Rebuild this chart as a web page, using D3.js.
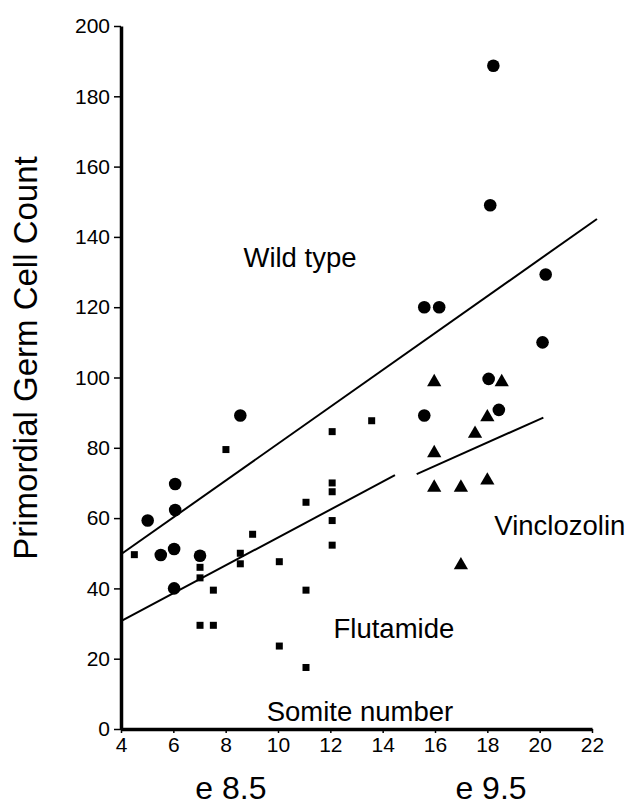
<!DOCTYPE html>
<html>
<head>
<meta charset="utf-8">
<script src="https://cdn.jsdelivr.net/npm/d3@7"></script>
<style>
  body { margin: 0; background: #fff; }
  text { font-family: "Liberation Sans", Arial, Helvetica, sans-serif; fill: #000; }
</style>
</head>
<body>
<div id="chart"></div>
<script>
// Nombre de cellules germinales primordiales selon le nombre de somites

// Données : [somites, nombre de cellules]
const wildType = [
    [5.02, 59.3], [5.52, 49.5], [6.03, 51.2], [6.07, 62.3], [6.07, 69.7], [6.03, 40],
    [7.02, 49.3], [8.56, 89.2], [15.59, 89.2], [15.59, 120], [16.16, 120],
    [18.23, 188.7], [18.11, 149], [18.05, 99.6], [18.44, 90.8], [20.23, 129.3], [20.11, 110]
];
const flutamide = [
    [4.51, 49.6], [7.02, 43], [7.02, 46], [7.02, 29.5], [7.53, 39.5], [7.53, 29.5],
    [8.01, 79.5], [8.56, 47], [8.56, 50], [9.03, 55.4], [10.05, 47.6], [10.05, 23.6],
    [11.07, 64.5], [11.07, 39.5], [11.07, 17.5],
    [12.07, 84.6], [12.07, 67.5], [12.07, 70], [12.07, 59.3], [12.07, 52.3], [13.58, 87.7]
];
const vinclozolin = [
    [15.97, 98.7], [15.97, 78.5], [15.97, 68.7], [16.99, 68.7], [16.99, 46.6],
    [17.53, 84], [18.0, 88.7], [18.0, 70.7], [18.55, 98.7]
];

// Droites de régression (extrémités)
const fitWild = [[4, 49.7], [22.19, 145.1]];
const fitFlut = [[4, 30.7], [14.47, 72.2]];
const fitVinc = [[15.3, 72.5], [20.14, 88.6]];

// Ticks
const xTicks = [4, 6, 8, 10, 12, 14, 16, 18, 20, 22];
const yTicks = [0, 20, 40, 60, 80, 100, 120, 140, 160, 180, 200];

// Annotations : texte, x, y (en unités des données)
const notes = [
    ["Wild type", 10.84, 131.4],
    ["Flutamide", 14.43, 25.8],
    ["Vinclozolin", 20.77, 55.1],
    ["Somite number", 13.13, 2.4]
];
const stages = [["e 8.5", 8.2], ["e 9.5", 18.14]];

const width = 628, height = 808;

const svg = d3.select("#chart")
    .append("svg")
    .attr("width", width)
    .attr("height", height);

const x = d3.scaleLinear().domain([4, 22]).range([121, 592]);
const y = d3.scaleLinear().domain([0, 200]).range([729, 26]);

// Axes
const yAxis = svg.append("g")
    .attr("transform", `translate(${x(4)},0)`)
    .call(d3.axisLeft(y).tickValues(yTicks).tickSize(7).tickSizeOuter(0).tickPadding(4));
yAxis.select(".domain").attr("stroke-width", 3.5);
yAxis.selectAll(".tick line").attr("stroke-width", 1.5);
yAxis.selectAll(".tick text")
    .attr("font-size", 21)
    .attr("font-family", "Liberation Sans, Arial, sans-serif");

const xAxis = svg.append("g")
    .attr("transform", `translate(0,${y(0)})`)
    .call(d3.axisBottom(x).tickValues(xTicks).tickSize(4).tickSizeOuter(0).tickPadding(4));
xAxis.select(".domain").attr("stroke-width", 3.5);
xAxis.selectAll(".tick line").attr("stroke-width", 1.5);
xAxis.selectAll(".tick text")
    .attr("font-size", 21)
    .attr("font-family", "Liberation Sans, Arial, sans-serif");

// Droites
const line = d3.line().x(d => x(d[0])).y(d => y(d[1]));
[fitWild, fitFlut, fitVinc].forEach(f => {
    svg.append("path")
        .attr("d", line(f))
        .attr("fill", "none")
        .attr("stroke", "#000")
        .attr("stroke-width", 2);
});

// Points
svg.selectAll("circle.wt")
    .data(wildType)
    .enter()
    .append("circle")
    .attr("class", "wt")
    .attr("cx", d => x(d[0]))
    .attr("cy", d => y(d[1]))
    .attr("r", 6.3)
    .attr("fill", "#000");

const sq = 7;
svg.selectAll("rect.fl")
    .data(flutamide)
    .enter()
    .append("rect")
    .attr("class", "fl")
    .attr("x", d => x(d[0]) - sq / 2)
    .attr("y", d => y(d[1]) - sq / 2)
    .attr("width", sq)
    .attr("height", sq)
    .attr("fill", "#000");

const tri = d3.symbol().type(d3.symbolTriangle).size(88);
svg.selectAll("path.vc")
    .data(vinclozolin)
    .enter()
    .append("path")
    .attr("class", "vc")
    .attr("transform", d => `translate(${x(d[0])},${y(d[1])})`)
    .attr("d", tri)
    .attr("fill", "#000");

// Textes
svg.selectAll("text.note")
    .data(notes)
    .enter()
    .append("text")
    .attr("class", "note")
    .attr("x", d => x(d[1]))
    .attr("y", d => y(d[2]))
    .attr("text-anchor", "middle")
    .attr("font-size", 27.5)
    .text(d => d[0]);

svg.selectAll("text.stage")
    .data(stages)
    .enter()
    .append("text")
    .attr("class", "stage")
    .attr("x", d => x(d[1]))
    .attr("y", 799)
    .attr("text-anchor", "middle")
    .attr("font-size", 32)
    .text(d => d[0]);

svg.append("text")
    .attr("transform", "translate(37,358) rotate(-90)")
    .attr("text-anchor", "middle")
    .attr("font-size", 33)
    .text("Primordial Germ Cell Count");
</script>
</body>
</html>
